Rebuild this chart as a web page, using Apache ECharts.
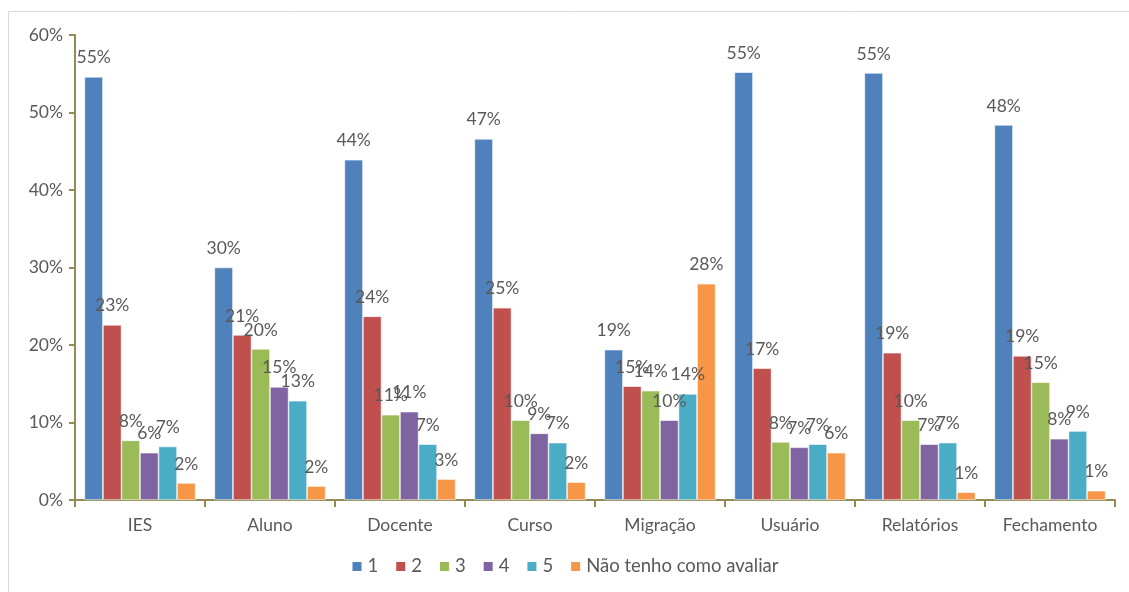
<!DOCTYPE html>
<html><head><meta charset="utf-8">
<script src="https://cdn.jsdelivr.net/npm/echarts@6/dist/echarts.min.js"></script>
<style>html,body{margin:0;padding:0;background:#fff}#c{width:1129px;height:592px}</style>
</head><body><div id="c"></div>
<script>
const categories = ['IES','Aluno','Docente','Curso','Migração','Usuário','Relatórios','Fechamento'];
const seriesNames = ['1','2','3','4','5','Não tenho como avaliar'];
const s1 = [54.6, 30.0, 43.9, 46.6, 19.4, 55.2, 55.1, 48.4];
const s2 = [22.6, 21.3, 23.7, 24.8, 14.7, 17.0, 19.0, 18.6];
const s3 = [7.7, 19.5, 11.0, 10.3, 14.1, 7.5, 10.3, 15.2];
const s4 = [6.1, 14.6, 11.4, 8.6, 10.3, 6.8, 7.2, 7.9];
const s5 = [6.9, 12.8, 7.2, 7.4, 13.7, 7.2, 7.4, 8.9];
const s6 = [2.2, 1.8, 2.7, 2.3, 27.9, 6.1, 1.0, 1.2];
const colors = ['#4F81BD','#C0504D','#9BBB59','#8064A2','#4BACC6','#F79646'];
const yTicks = {min:0, max:60, interval:10};

const font = 'Lato, "Open Sans", sans-serif';
const txt = '#595959';
const axisColor = '#948A54';
const data = [s1,s2,s3,s4,s5,s6];
const chart = echarts.init(document.getElementById('c'));
chart.setOption({
  animation:false,
  color: colors,
  graphic:[{type:'rect', shape:{x:8.5,y:11.5,width:1130,height:600}, style:{fill:'none', stroke:'#d9d9d9', lineWidth:1}, z:-1}],
  grid:{left:75, right:14, top:35, bottom:92},
  legend:{bottom:11, left:'center', itemWidth:11, itemHeight:11, itemGap:16, icon:'rect',
    textStyle:{color:txt, fontSize:18.5, fontFamily:font}, data:seriesNames},
  xAxis:{type:'category', data:categories,
    axisLine:{lineStyle:{color:axisColor, width:2}},
    axisTick:{show:true, length:7, lineStyle:{color:axisColor, width:2}},
    axisLabel:{color:txt, fontSize:17.5, fontFamily:font, margin:16}},
  yAxis:{type:'value', min:yTicks.min, max:yTicks.max, interval:yTicks.interval,
    splitLine:{show:false},
    axisLine:{show:true, lineStyle:{color:axisColor, width:2}},
    axisTick:{show:true, inside:false, length:6, lineStyle:{color:axisColor, width:2}},
    axisLabel:{color:txt, fontSize:17.5, fontFamily:font, formatter:'{value}%', margin:12}},
  series: seriesNames.map((n,i)=>({
    name:n, type:'bar', data:data[i], barGap:'0%', barCategoryGap:'14.5%',
    itemStyle:{color:colors[i], borderColor:'#fff', borderWidth:0.6},
    label:{show:true, position:'top', distance:10, color:txt, fontSize:17.5, fontFamily:font,
      formatter:p=>Math.round(p.value)+'%'}
  }))
});
</script></body></html>
